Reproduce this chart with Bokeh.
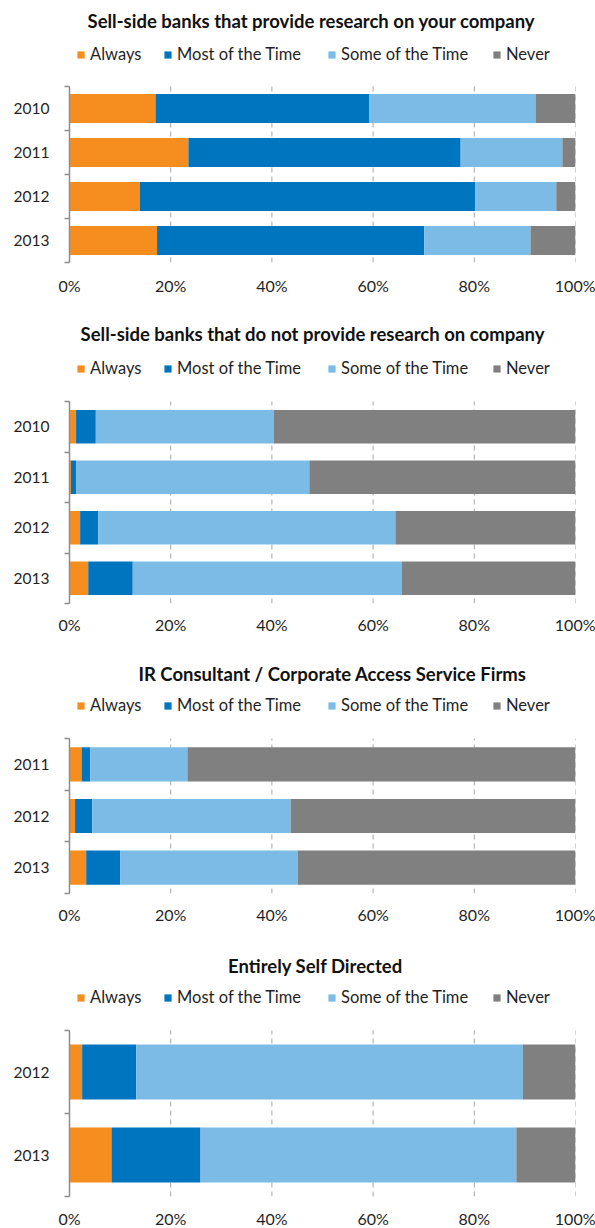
from bokeh.plotting import figure
from bokeh.models import (ColumnDataSource, FixedTicker, Range1d, Label, Legend,
                          LegendItem, PrintfTickFormatter)
from bokeh.layouts import column
from bokeh.embed import file_html
from bokeh.resources import INLINE

series = ["Always", "Most of the Time", "Some of the Time", "Never"]
colors = ["#F68E1F", "#0075BF", "#7BBBE6", "#808080"]
x_ticks = [0, 20, 40, 60, 80, 100]

# Chart 1
title1 = "Sell-side banks that provide research on your company"
years1 = ["2010", "2011", "2012", "2013"]
always1 = [17.0, 23.5, 13.9, 17.3]
most1 = [42.2, 53.8, 66.3, 52.8]
some1 = [32.9, 20.1, 16.0, 21.0]
never1 = [7.9, 2.6, 3.8, 8.9]

# Chart 2
title2 = "Sell-side banks that do not provide research on company"
years2 = ["2010", "2011", "2012", "2013"]
always2 = [1.3, 0.3, 2.1, 3.7]
most2 = [3.9, 1.0, 3.6, 8.8]
some2 = [35.2, 46.1, 58.7, 53.2]
never2 = [59.6, 52.6, 35.6, 34.3]

# Chart 3
title3 = "IR Consultant / Corporate Access Service Firms"
years3 = ["2011", "2012", "2013"]
always3 = [2.4, 1.1, 3.3]
most3 = [1.7, 3.4, 6.7]
some3 = [19.2, 39.2, 35.1]
never3 = [76.7, 56.3, 54.9]

# Chart 4
title4 = "Entirely Self Directed"
years4 = ["2012", "2013"]
always4 = [2.5, 8.3]
most4 = [10.7, 17.6]
some4 = [76.4, 62.4]
never4 = [10.4, 11.7]

FONT = "Lato"
TXT = "#1F1F1F"
AXIS = "#8C8C8C"


def make_chart(title, years, always, most, some, never, frame_h, bars_h, bottom,
               title_cx, title_y, legend_y, standoff):
    n = len(years)
    band = bars_h / n
    pos = [n - 0.5 - i for i in range(n)]  # first year at top
    src = ColumnDataSource(dict(pos=pos, a=always, m=most, s=some, nv=never))
    p = figure(width=595, frame_width=506, frame_height=frame_h,
               min_border_left=69, min_border_right=20,
               min_border_top=0, min_border_bottom=bottom,
               x_range=Range1d(0, 100), y_range=Range1d(0, frame_h / band),
               output_backend="svg", toolbar_location=None, tools="")
    p.outline_line_color = None
    p.xgrid.grid_line_color = None
    p.ygrid.grid_line_color = None
    # dashed vertical gridlines spanning the category area only
    p.segment(x0=x_ticks, y0=[0] * len(x_ticks), x1=x_ticks, y1=[n] * len(x_ticks),
              line_color="#A6A6A6", line_dash="5 4", line_width=1)
    rs = p.hbar_stack(["a", "m", "s", "nv"], y="pos", height=0.66, source=src,
                      fill_color=colors, line_color=None)
    # x axis
    p.xaxis.ticker = FixedTicker(ticks=x_ticks)
    p.xaxis.formatter = PrintfTickFormatter(format="%d%%")
    p.xaxis.axis_line_color = None
    p.xaxis.major_tick_line_color = None
    p.xaxis.minor_tick_line_color = None
    p.xaxis.major_tick_out = 0
    p.xaxis.major_tick_in = 0
    p.xaxis.minor_tick_out = 0
    p.xaxis.minor_tick_in = 0
    p.xaxis.major_label_standoff = standoff
    p.xaxis.major_label_text_font = FONT
    p.xaxis.major_label_text_font_size = "16px"
    p.xaxis.major_label_text_color = TXT
    # y axis
    p.yaxis.bounds = (0, n)
    p.yaxis.ticker = FixedTicker(ticks=pos, minor_ticks=list(range(n + 1)))
    p.yaxis.major_label_overrides = {pv: y for pv, y in zip(pos, years)}
    p.yaxis.axis_line_color = AXIS
    p.yaxis.axis_line_width = 1.5
    p.yaxis.major_tick_line_color = None
    p.yaxis.major_tick_out = 0
    p.yaxis.major_tick_in = 0
    p.yaxis.minor_tick_line_color = AXIS
    p.yaxis.minor_tick_line_width = 1.5
    p.yaxis.minor_tick_out = 5
    p.yaxis.minor_tick_in = 0
    p.yaxis.major_label_standoff = 15
    p.yaxis.major_label_text_font = FONT
    p.yaxis.major_label_text_font_size = "15.5px"
    p.yaxis.major_label_text_color = TXT
    # title (inside the frame's header area)
    p.add_layout(Label(x=title_cx, y=title_y, x_units="screen", y_units="screen",
                       text=title, text_align="center", text_baseline="middle",
                       text_font=FONT, text_font_style="bold", text_font_size="18.5px",
                       text_color="#111111"))
    # legend, one item per legend for exact placement
    lx = [7, 94, 258, 423]
    for r, lab, x0 in zip(rs, series, lx):
        leg = Legend(items=[LegendItem(label=lab, renderers=[r])],
                     location=(x0, legend_y - 10), orientation="horizontal",
                     padding=0, margin=0, spacing=0,
                     glyph_width=9, glyph_height=9, label_standoff=5,
                     label_height=20,
                     label_text_font=FONT, label_text_font_size="16.5px",
                     label_text_color=TXT,
                     border_line_color=None, background_fill_alpha=0)
        p.add_layout(leg, "center")
    return p


p1 = make_chart(title1, years1, always1, most1, some1, never1,
                262, 176, 38, 242, 242, 208, 13)
p2 = make_chart(title2, years2, always2, most2, some2, never2,
                303, 202, 37, 243, 270, 235, 11)
p3 = make_chart(title3, years3, always3, most3, some3, never3,
                253, 155, 42, 263, 220, 188, 11)
p4 = make_chart(title4, years4, always4, most4, some4, never4,
                261, 166, 32, 246, 231, 199, 12)

layout = column(p1, p2, p3, p4, spacing=0)
open("out.html", "w").write(file_html(layout, INLINE))
